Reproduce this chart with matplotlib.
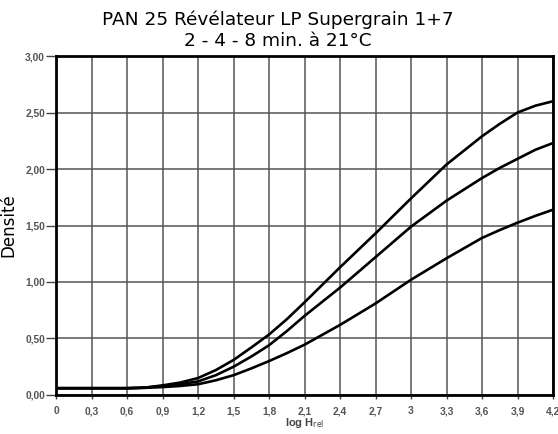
#!/usr/bin/env python3
"""PAN 25 characteristic curves in LP Supergrain 1+7."""

import matplotlib
matplotlib.use("Agg")
import matplotlib.pyplot as plt  # noqa: E402

log_h = [0, 0.3, 0.6, 0.75, 0.9, 1.05, 1.2, 1.35, 1.5, 1.65, 1.8, 1.95,
         2.1, 2.4, 2.7, 3.0, 3.3, 3.6, 3.75, 3.9, 4.05, 4.2]
dens_8min = [0.06, 0.06, 0.06, 0.065, 0.085, 0.11, 0.15, 0.22, 0.31, 0.42,
             0.535, 0.67, 0.82, 1.13, 1.43, 1.74, 2.04, 2.29, 2.40, 2.50,
             2.56, 2.60]
dens_4min = [0.06, 0.06, 0.06, 0.065, 0.08, 0.095, 0.12, 0.175, 0.25, 0.34,
             0.44, 0.565, 0.70, 0.95, 1.22, 1.49, 1.72, 1.92, 2.01, 2.09,
             2.17, 2.23]
dens_2min = [0.06, 0.06, 0.06, 0.063, 0.07, 0.08, 0.095, 0.13, 0.175, 0.235,
             0.30, 0.37, 0.445, 0.62, 0.81, 1.02, 1.21, 1.39, 1.46, 1.525,
             1.585, 1.64]

x_ticks = [0, 0.3, 0.6, 0.9, 1.2, 1.5, 1.8, 2.1, 2.4, 2.7, 3.0, 3.3, 3.6, 3.9, 4.2]
x_labels = ["0", "0,3", "0,6", "0,9", "1,2", "1,5", "1,8", "2,1", "2,4",
            "2,7", "3", "3,3", "3,6", "3,9", "4,2"]
y_ticks = [0, 0.5, 1.0, 1.5, 2.0, 2.5, 3.0]
y_labels = ["0,00", "0,50", "1,00", "1,50", "2,00", "2,50", "3,00"]

title = "PAN 25 Révélateur LP Supergrain 1+7\n2 - 4 - 8 min. à 21°C"

dpi = 100
fig = plt.figure(figsize=(5.58, 4.34), dpi=dpi)
ax = fig.add_axes([0.1004, 0.0899, 0.8907, 0.781])

for dens in (dens_8min, dens_4min, dens_2min):
    ax.plot(log_h, dens, color="black", linewidth=1.9,
            solid_capstyle="butt", solid_joinstyle="round", zorder=3)

ax.set_xlim(0, 4.2)
ax.set_ylim(0, 3.0)
ax.set_xticks(x_ticks)
ax.set_xticklabels(x_labels)
ax.set_yticks(y_ticks)
ax.set_yticklabels(y_labels)

for lab in ax.get_xticklabels() + ax.get_yticklabels():
    lab.set_fontfamily("Liberation Sans")
    lab.set_fontsize(7.4)
    lab.set_fontweight("bold")
    lab.set_color("#555555")

ax.tick_params(axis="y", direction="out", length=7, width=1.0,
               color="#444444", pad=1)
ax.tick_params(axis="x", direction="out", length=3, width=1.0,
               color="#444444", pad=5)

ax.grid(True, color="#555555", linewidth=1.1)
ax.set_axisbelow(True)
for side in ax.spines.values():
    side.set_linewidth(2.0)
    side.set_color("black")
    side.set_zorder(4)

ax.set_ylabel("Densité", fontsize=12)
ax.yaxis.set_label_coords(-0.0775, 0.5)
ax.set_xlabel(r"log H$_{\rm rel}$", fontfamily="Liberation Sans",
              fontsize=8, fontweight="bold", color="#444444")
ax.xaxis.set_label_coords(0.5, -0.062)

fig.text(0.497, 0.975, title, ha="center", va="top", fontsize=13.3,
         linespacing=1.2)

fig.savefig("out.png", dpi=dpi)
plt.close(fig)
